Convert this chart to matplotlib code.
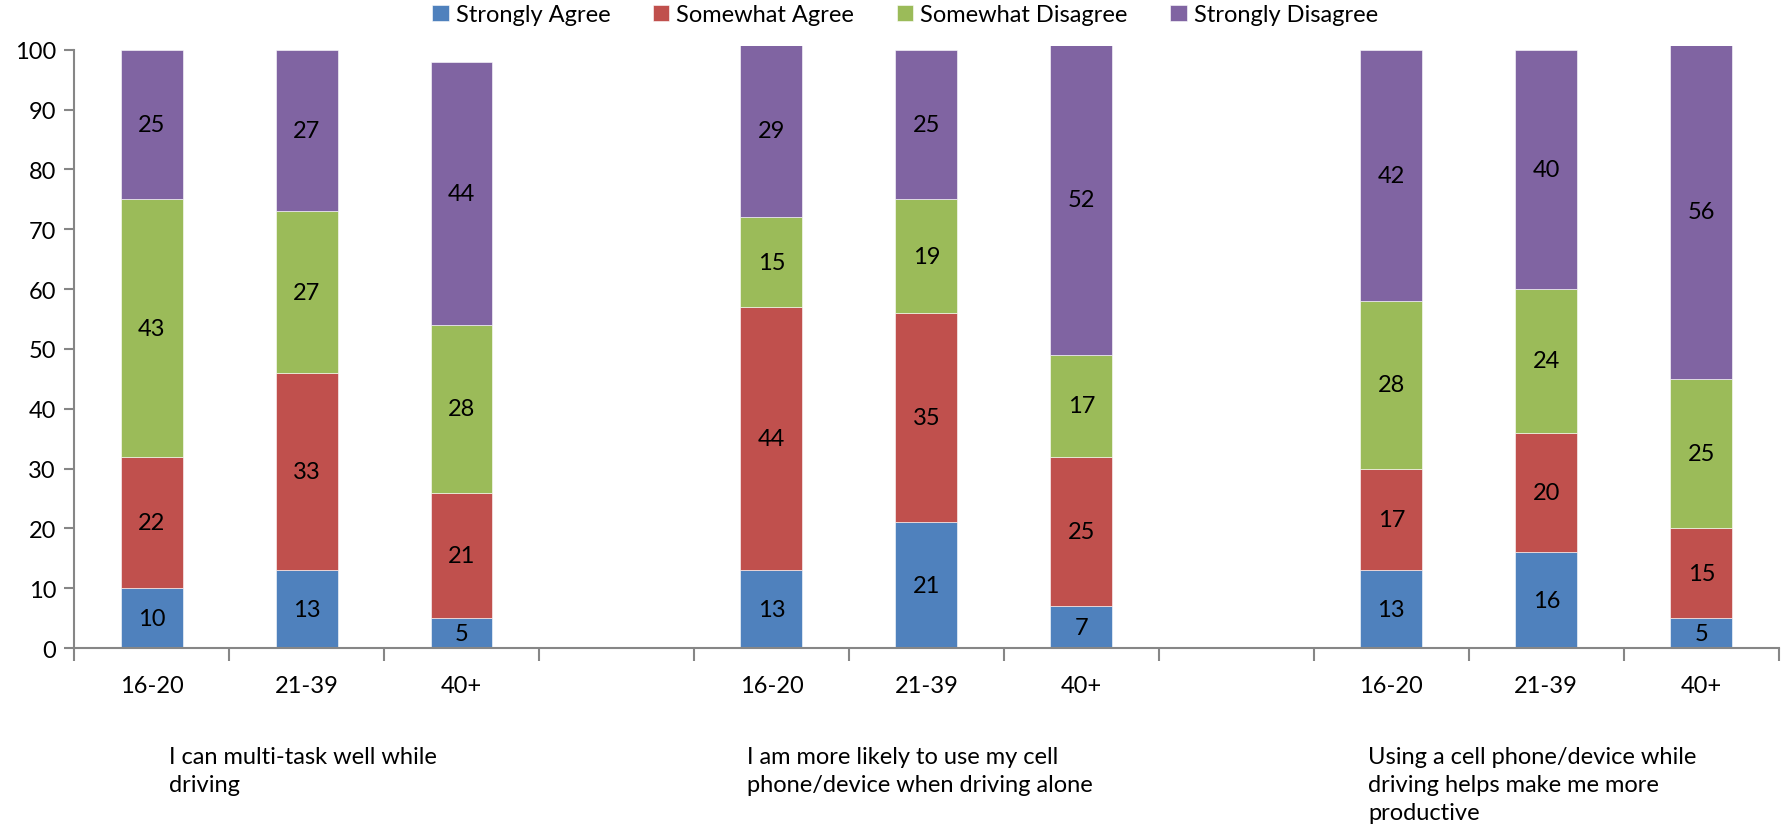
import matplotlib
matplotlib.use("Agg")
import matplotlib.pyplot as plt
import numpy as np

plt.rcParams["font.family"] = ["Lato", "DejaVu Sans"]

# age groups repeated for each statement, slots 3 and 7 are empty spacers
age_labels = ["16-20", "21-39", "40+"]
statements = [
    "I can multi-task well while\ndriving",
    "I am more likely to use my cell\nphone/device when driving alone",
    "Using a cell phone/device while\ndriving helps make me more\nproductive",
]
series = ["Strongly Agree", "Somewhat Agree", "Somewhat Disagree", "Strongly Disagree"]
colors = ["#4F81BD", "#C0504D", "#9BBB59", "#8064A2"]

strongly_agree = [10, 13, 5, 13, 21, 7, 13, 16, 5]
somewhat_agree = [22, 33, 21, 44, 35, 25, 17, 20, 15]
somewhat_disagree = [43, 27, 28, 15, 19, 17, 28, 24, 25]
strongly_disagree = [25, 27, 44, 29, 25, 52, 42, 40, 56]

values = [strongly_agree, somewhat_agree, somewhat_disagree, strongly_disagree]

# slot positions: 3 bars, gap, 3 bars, gap, 3 bars
x = np.array([0, 1, 2, 4, 5, 6, 8, 9, 10])
label_x = [0.11, 3.84, 7.85]
FS = 17

fig = plt.figure(figsize=(17.85, 8.29), dpi=100)
ax = fig.add_axes([0.0415, 0.217, 0.955, 0.726])

bottom = np.zeros(len(x))
for name, vals, col in zip(series, values, colors):
    vals = np.array(vals, dtype=float)
    ax.bar(x, vals, width=0.4, bottom=bottom, color=col, label=name,
           edgecolor="white", linewidth=0.4)
    for xi, b, v in zip(x, bottom, vals):
        ax.text(xi, b + v / 2, f"{int(v)}", ha="center", va="center",
                fontsize=FS, color="black")
    bottom += vals

ax.set_xlim(-0.5, 10.5)
ax.set_ylim(0, 100.6)
ax.set_yticks(np.arange(0, 101, 10))
ax.tick_params(axis="y", labelsize=FS, length=7, width=1.5, color="#868686", pad=6)

# excel style ticks between categories
ax.set_xticks(np.arange(-0.5, 11, 1))
ax.set_xticklabels([])
ax.tick_params(axis="x", length=9, width=1.5, color="#868686")
for i, xi in enumerate(x):
    ax.text(xi, -6.3, age_labels[i % 3], ha="center", va="center", fontsize=FS)
for lx, s in zip(label_x, statements):
    ax.text(lx, -16.3, s, ha="left", va="top", fontsize=FS, linespacing=1.42)

for side in ["top", "right"]:
    ax.spines[side].set_visible(False)
for side in ["left", "bottom"]:
    ax.spines[side].set_color("#868686")
    ax.spines[side].set_linewidth(1.5)
ax.spines["left"].set_bounds(0, 100)

fig.legend(loc="center", bbox_to_anchor=(0.507, 0.981), ncol=4, frameon=False,
           fontsize=FS, handlelength=0.7, handleheight=0.7, handletextpad=0.3,
           columnspacing=1.8)

fig.savefig("out.png", dpi=100)
